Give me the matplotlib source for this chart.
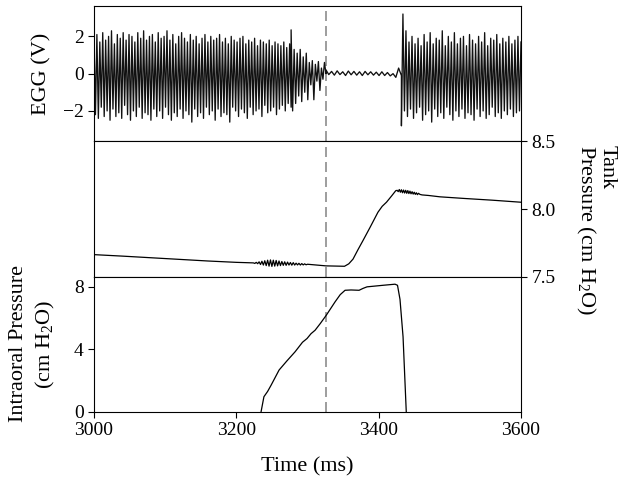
import numpy as np
import matplotlib
matplotlib.use("Agg")
import matplotlib.pyplot as plt

plt.rcParams['font.family'] = 'Liberation Serif'
plt.rcParams['mathtext.fontset'] = 'custom'
plt.rcParams['mathtext.rm'] = 'Liberation Serif'
plt.rcParams['mathtext.it'] = 'Liberation Serif:italic'

# ---------------------------------------------------------------
# Data
# ---------------------------------------------------------------
marker_t = 3326  # dashed line, ms

# EGG: voiced segment before closure, per-cycle peak / trough (V)
egg_a_span = (3000, 3277)
egg_a_peaks = [1.9, 2.1, 1.7, 2.2, 1.8, 2.0, 2.3, 1.6, 2.1, 1.9, 2.2, 1.8, 2.1, 2.0,
               1.7, 2.2, 1.9, 2.3, 1.8, 2.0, 2.1, 1.7, 2.2, 1.9, 2.0, 2.3, 1.8, 2.1,
               1.6, 2.0, 2.2, 1.9, 1.7, 2.1, 1.8, 2.0, 1.6, 1.9, 2.1, 1.7, 2.0, 1.8,
               1.9, 2.1, 1.7, 1.9, 1.6, 2.0, 1.8, 1.7, 1.9, 2.0, 1.6, 1.8, 1.7, 1.9,
               1.5, 1.8, 1.7, 1.6, 1.8, 1.5, 1.7, 1.6, 1.5, 1.7, 1.4, 1.6]
egg_a_troughs = [-2.2, -2.4, -1.8, -2.3, -2.0, -2.5, -1.9, -2.3, -2.1, -2.4, -1.7, -2.2,
                 -2.5, -2.0, -2.3, -1.8, -2.4, -2.1, -2.2, -2.5, -1.9, -2.3, -2.0, -2.4,
                 -1.8, -2.2, -2.5, -2.1, -2.3, -1.9, -2.4, -2.0, -2.2, -2.6, -1.9, -2.3,
                 -2.1, -2.4, -1.8, -2.2, -2.0, -2.5, -1.9, -2.3, -2.1, -2.2, -2.6, -1.8,
                 -2.0, -2.3, -1.9, -2.1, -2.4, -1.8, -2.2, -2.0, -1.9, -2.3, -1.7, -2.1,
                 -2.0, -1.8, -2.2, -1.9, -1.7, -2.0, -1.6, -1.8]

# EGG: decaying part just before the closure
egg_b_span = (3277, 3326)
egg_b_peaks = [2.35, 1.3, 1.1, 1.3, 0.9, 1.1, 0.6, 0.7, 0.5, 0.65, 0.3, 0.6]
egg_b_troughs = [-2.0, -1.6, -1.2, -1.5, -1.0, -1.4, -0.6, -1.4, -0.4, -0.9, -0.3, 0.0]

# EGG: small ripple during closure
egg_c_span = (3326, 3432)
egg_c_peaks = [0.2, 0.12, 0.15, 0.1, 0.14, 0.12, 0.1, 0.12, 0.1, 0.08, 0.1, 0.06, 0.0, 0.3]
egg_c_troughs = [-0.05, -0.08, -0.05, -0.1, -0.06, -0.08, -0.1, -0.06, -0.08, -0.1,
                 -0.1, -0.12, -0.2, -0.1]

# EGG: voicing resumes (trough first)
egg_d_span = (3432, 3600)
egg_d_troughs = [-2.8, -2.0, -2.3, -1.9, -2.4, -2.1, -1.8, -2.5, -2.2, -2.0, -2.6, -1.9,
                 -2.3, -2.1, -2.4, -1.8, -2.2, -2.5, -2.0, -2.3, -1.9, -2.4, -2.1, -2.2,
                 -2.5, -1.9, -2.3, -2.0, -2.4, -2.2, -1.8, -2.3, -2.1, -2.4, -2.0, -2.2,
                 -1.9, -2.3, -2.1, -2.0]
egg_d_peaks = [3.2, 2.3, 1.7, 2.0, 1.6, 1.9, 1.5, 2.1, 1.7, 2.2, 1.6, 1.9, 1.8, 2.3,
               1.5, 2.0, 1.7, 2.2, 1.6, 1.9, 2.0, 1.5, 2.1, 1.8, 1.6, 2.0, 1.7, 2.2,
               1.5, 1.9, 1.8, 2.1, 1.6, 1.9, 1.7, 2.0, 1.6, 1.8, 2.0, 1.7]

# Tank pressure (cm H2O)
tank_t = [3000, 3040, 3080, 3120, 3160, 3200,
          3224, 3226, 3228, 3230, 3232, 3234, 3236, 3238, 3240, 3242, 3244, 3246,
          3248, 3250, 3252, 3254, 3256, 3258, 3260, 3262, 3264, 3266, 3268, 3270,
          3272, 3274, 3276, 3278, 3280, 3282, 3284, 3286, 3288, 3290, 3292, 3294,
          3296, 3298, 3300,
          3326, 3352, 3358, 3364, 3371, 3378, 3388, 3399, 3405, 3411, 3418, 3424,
          3426, 3427.5, 3429, 3430.5, 3432, 3433.5, 3435, 3436.5, 3438, 3439.5, 3441,
          3442.5, 3444, 3445.5, 3447, 3448.5, 3450, 3451.5, 3453, 3454.5, 3456, 3458, 3461,
          3470, 3486, 3520, 3560, 3600]
tank_p = [7.663, 7.652, 7.640, 7.628, 7.616, 7.606,
          7.602, 7.598, 7.606, 7.596, 7.610, 7.590, 7.614, 7.586, 7.618, 7.582, 7.622, 7.578,
          7.624, 7.576, 7.622, 7.578, 7.620, 7.580, 7.616, 7.582, 7.612, 7.584, 7.610, 7.584,
          7.608, 7.586, 7.605, 7.585, 7.604, 7.586, 7.600, 7.587, 7.599, 7.586, 7.597, 7.587,
          7.595, 7.588, 7.592,
          7.580, 7.577, 7.595, 7.630, 7.700, 7.767, 7.865, 7.976, 8.020, 8.050, 8.095, 8.135,
          8.138, 8.128, 8.144, 8.124, 8.142, 8.120, 8.140, 8.118, 8.138, 8.116, 8.136,
          8.114, 8.132, 8.112, 8.128, 8.110, 8.124, 8.108, 8.120, 8.106, 8.116, 8.108, 8.104,
          8.100, 8.090, 8.078, 8.065, 8.050]

# Intraoral pressure (cm H2O)
oral_t = [3234.8, 3238.8, 3244, 3248.9, 3260.1, 3271, 3282.6, 3293, 3299.4, 3305, 3310.7,
          3318, 3326.4, 3338.8, 3346, 3352.8, 3361.2, 3372.5, 3378, 3383.7, 3406.2,
          3423.0, 3426.5, 3430, 3434.3, 3438.8]
oral_p = [0.0, 0.96, 1.3, 1.7, 2.67, 3.25, 3.84, 4.45, 4.69, 5.0, 5.22,
          5.65, 6.18, 7.04, 7.5, 7.78, 7.8, 7.78, 7.9, 8.0, 8.1,
          8.17, 8.1, 7.2, 4.8, 0.0]


def zigzag(span, first, second):
    vals = np.column_stack([first, second]).ravel()
    t = np.linspace(span[0], span[1], len(vals))
    return t, vals


segs = [zigzag(egg_a_span, egg_a_peaks, egg_a_troughs),
        zigzag(egg_b_span, egg_b_peaks, egg_b_troughs),
        zigzag(egg_c_span, egg_c_peaks, egg_c_troughs),
        zigzag(egg_d_span, egg_d_troughs, egg_d_peaks)]
egg_t = np.concatenate([s[0] for s in segs])
egg_v = np.concatenate([s[1] for s in segs])

# ---------------------------------------------------------------
# Figure
# ---------------------------------------------------------------
fig = plt.figure(figsize=(6.24, 4.92), dpi=100, facecolor='white')
left, width = 0.1506, 0.6843
ax1 = fig.add_axes([left, 0.7128, width, 0.2750])
ax2 = fig.add_axes([left, 0.4376, width, 0.2752])
ax3 = fig.add_axes([left, 0.1632, width, 0.2744])

tick_fs = 14
label_fs = 16
for ax in (ax1, ax2, ax3):
    ax.set_xlim(3000, 3600)
    ax.tick_params(direction='out', length=4, width=0.8, labelsize=tick_fs, color='black')
    for sp in ax.spines.values():
        sp.set_linewidth(0.8)
    ax.axvline(marker_t, color='#8c8c8c', lw=1.2, dashes=(6, 3), zorder=1)

# EGG
ax1.plot(egg_t, egg_v, color='#111111', lw=0.95)
ax1.set_ylim(-3.63, 3.63)
ax1.set_yticks([-2, 0, 2])
ax1.set_xticks([])

# Tank
ax2.plot(tank_t, tank_p, color='black', lw=0.9)
ax2.set_ylim(7.5, 8.5)
ax2.yaxis.tick_right()
ax2.set_yticks([7.5, 8.0, 8.5])
ax2.set_yticklabels(['7.5', '8.0', '8.5'])
ax2.set_xticks([])

# Intraoral
ax3.plot(oral_t, oral_p, color='black', lw=0.9)
ax3.set_ylim(0, 8.65)
ax3.set_yticks([0, 4, 8])
ax3.set_xticks([3000, 3200, 3400, 3600])

# Labels
fig.text(42 / 624, 1 - 74 / 492, 'EGG (V)', rotation=90, ha='center', va='center',
         fontsize=label_fs)
fig.text(33 / 624, 1 - 344 / 492, 'Intraoral Pressure\n(cm H$_2$O)', rotation=90,
         ha='center', va='center', multialignment='center', fontsize=label_fs,
         linespacing=1.35)
fig.text(607 / 624, 1 - 167 / 492, 'Tank', rotation=270, ha='center', va='center',
         fontsize=label_fs)
fig.text(586 / 624, 1 - 230 / 492, 'Pressure (cm H$_2$O)', rotation=270, ha='center',
         va='center', fontsize=label_fs)
fig.text(307 / 624, 1 - 467 / 492, 'Time (ms)', ha='center', va='center', fontsize=label_fs)

fig.savefig('out.png', dpi=100, facecolor='white')
